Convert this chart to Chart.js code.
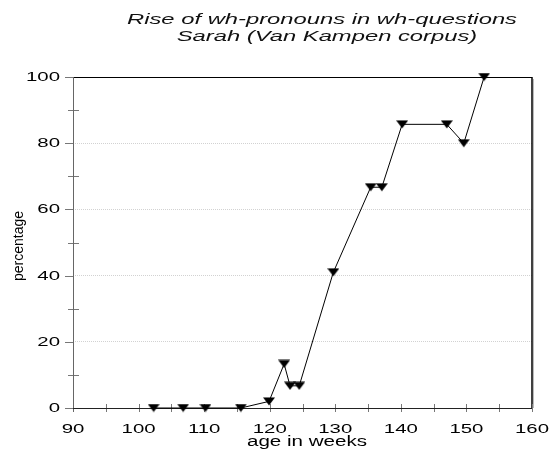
<!DOCTYPE html>
<html>
<head>
<meta charset="utf-8">
<script src="https://cdn.jsdelivr.net/npm/chart.js@4.4.1/dist/chart.umd.min.js"></script>
<style>
  html, body { margin: 0; padding: 0; background: #fff; }
  #wrap { width: 550px; height: 449px; }
</style>
</head>
<body>
<div id="wrap"><canvas id="chart"></canvas></div>
<script>
// data
const weeks = [102.3, 106.8, 110.2, 115.6, 119.9, 122.2, 123.1, 124.5, 129.7, 135.4, 137.1, 140.2, 147.0, 149.6, 152.7];
const percentages = [0, 0, 0, 0, 2, 13.3, 6.7, 6.7, 41, 66.7, 66.7, 85.7, 85.7, 80, 100];

const titleLines = ['Rise of wh-pronouns in wh-questions', 'Sarah (Van Kampen corpus)'];
const xTitle = 'age in weeks';
const yTitle = 'percentage';

// the original text is drawn wide, so stretch it horizontally
function wideText(ctx, text, x, y, align, sx) {
  ctx.save();
  ctx.translate(x, y);
  ctx.scale(sx, 1);
  ctx.textAlign = align;
  ctx.fillText(text, 0, 0);
  ctx.restore();
}

// inverted triangle marker, a bit wider than tall
function makeMarker() {
  const c = document.createElement('canvas');
  c.width = 12; c.height = 9;
  const g = c.getContext('2d');
  g.fillStyle = '#000';
  g.beginPath();
  g.moveTo(0, 0.5);
  g.lineTo(12, 0.5);
  g.lineTo(6, 8.5);
  g.closePath();
  g.fill();
  return c;
}

const frame = {
  id: 'frame',
  beforeDatasetsDraw(chart) {
    const ctx = chart.ctx;
    const a = chart.chartArea;
    const xs = chart.scales.x, ys = chart.scales.y;
    ctx.save();
    // top + right border
    ctx.strokeStyle = '#000';
    ctx.lineWidth = 1;
    ctx.beginPath();
    ctx.moveTo(a.left, a.top + 0.5);
    ctx.lineTo(a.right, a.top + 0.5);
    ctx.stroke();
    ctx.lineWidth = 1.5;
    ctx.beginPath();
    ctx.moveTo(a.right, a.top);
    ctx.lineTo(a.right, a.bottom);
    ctx.stroke();
    ctx.strokeStyle = '#bbb';
    ctx.lineWidth = 1;
    ctx.beginPath();
    ctx.moveTo(a.right + 1.5, a.top + 2);
    ctx.lineTo(a.right + 1.5, a.bottom);
    ctx.stroke();

    // x ticks (every 5)
    ctx.strokeStyle = '#777';
    for (let v = xs.min; v <= xs.max; v += 5) {
      const px = Math.round(xs.getPixelForValue(v)) + 0.5;
      ctx.beginPath();
      ctx.moveTo(px, a.bottom - 4);
      ctx.lineTo(px, a.bottom + 4);
      ctx.stroke();
    }
    // y ticks: major outside, minor across
    for (let v = ys.min; v <= ys.max; v += 10) {
      const py = Math.round(ys.getPixelForValue(v)) + 0.5;
      ctx.beginPath();
      if (v % 20 === 0) {
        ctx.moveTo(a.left - 8, py);
        ctx.lineTo(a.left, py);
      } else {
        ctx.moveTo(a.left - 5, py);
        ctx.lineTo(a.left + 6, py);
      }
      ctx.stroke();
    }
    // axes
    ctx.strokeStyle = '#666';
    ctx.beginPath();
    ctx.moveTo(a.left + 0.5, a.top);
    ctx.lineTo(a.left + 0.5, a.bottom + 4);
    ctx.stroke();
    ctx.strokeStyle = '#222';
    ctx.beginPath();
    ctx.moveTo(a.left, a.bottom + 0.5);
    ctx.lineTo(a.right, a.bottom + 0.5);
    ctx.stroke();

    // tick labels
    ctx.fillStyle = '#000';
    ctx.font = '12px "Liberation Sans", Arial, sans-serif';
    ctx.textBaseline = 'alphabetic';
    const sxTick = 34 / ctx.measureText('100').width;
    xs.ticks.forEach(t => {
      wideText(ctx, String(t.value), xs.getPixelForValue(t.value), 433, 'center', sxTick);
    });
    ys.ticks.forEach(t => {
      wideText(ctx, String(t.value), a.left - 13, ys.getPixelForValue(t.value) + 4, 'right', sxTick);
    });

    // axis titles
    ctx.font = '14px "Liberation Sans", Arial, sans-serif';
    const sxX = 120 / ctx.measureText(xTitle).width;
    wideText(ctx, xTitle, 307, 446, 'center', sxX);
    ctx.save();
    ctx.translate(23, 246);
    ctx.rotate(-Math.PI / 2);
    ctx.textAlign = 'center';
    ctx.fillText(yTitle, 0, 0);
    ctx.restore();

    // title
    ctx.fillStyle = '#111';
    ctx.font = 'italic 15.5px "Liberation Sans", Arial, sans-serif';
    const sxT = 390 / ctx.measureText(titleLines[0]).width;
    wideText(ctx, titleLines[0], 322, 24, 'center', sxT);
    wideText(ctx, titleLines[1], 327, 41, 'center', sxT);
    ctx.restore();
  }
};

const points = weeks.map((w, i) => ({ x: w, y: percentages[i] }));

new Chart(document.getElementById('chart'), {
  type: 'scatter',
  data: {
    datasets: [{
      data: points,
      showLine: true,
      borderColor: '#000',
      borderWidth: 1,
      backgroundColor: '#000',
      pointStyle: makeMarker(),
      pointRadius: 5,
      pointHoverRadius: 5,
      clip: false,
    }],
  },
  options: {
    responsive: true,
    maintainAspectRatio: false,
    animation: false,
    events: [],
    layout: { padding: { left: 73, top: 77, right: 18, bottom: 41 } },
    plugins: { legend: { display: false }, tooltip: { enabled: false } },
    scales: {
      x: {
        type: 'linear',
        min: 90,
        max: 160,
        ticks: { display: false, stepSize: 10 },
        grid: { display: false, drawTicks: false },
        border: { display: false },
      },
      y: {
        min: 0,
        max: 100,
        ticks: { display: false, stepSize: 20 },
        grid: {
          drawTicks: false,
          color: (c) => (c.tick && c.tick.value > 0 && c.tick.value < 100) ? '#d2d2d2' : 'rgba(0,0,0,0)',
          lineWidth: 1,
        },
        border: { display: false, dash: [1, 1] },
      },
    },
  },
  plugins: [frame],
});
</script>
</body>
</html>
